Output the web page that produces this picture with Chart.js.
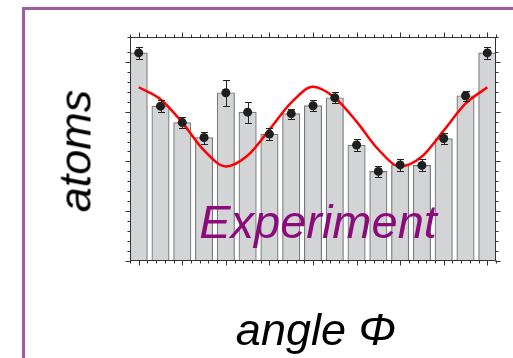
<!DOCTYPE html>
<html>
<head>
<meta charset="utf-8">
<script src="https://cdn.jsdelivr.net/npm/chart.js@4.4.1/dist/chart.umd.min.js"></script>
<style>
  html, body { margin: 0; padding: 0; background: #fff; overflow: hidden; }
  #wrap { position: relative; width: 513px; height: 358px; overflow: hidden; }
  #frame { position: absolute; left: 22px; top: 7px; width: 700px; height: 600px;
           border-left: 3.5px solid #a15aa6; border-top: 3.5px solid #a15aa6; }
  #chart { position: absolute; left: 0; top: 0; }
  .lbl { position: absolute; font-family: "Liberation Sans", Arial, sans-serif; font-style: italic;
         white-space: nowrap; line-height: 1; }
  #yTitle { left: 75px; top: 151px; font-size: 45px; color: #000; transform: translate(-50%, -50%) rotate(-90deg); }
  #xTitle { left: 316px; top: 307px; font-size: 45px; color: #000; transform: translateX(-50%); }
  #tag { left: 318px; top: 198px; font-size: 47px; color: #8c0b7b; transform: translateX(-50%); }
</style>
</head>
<body>
<div id="wrap">
  <div id="frame"></div>
  <canvas id="chart" width="513" height="358"></canvas>
  <div class="lbl" id="yTitle">atoms</div>
  <div class="lbl" id="xTitle">angle Φ</div>
  <div class="lbl" id="tag">Experiment</div>
</div>
<script>
// angle steps (bar positions) and measured atom numbers
const angles = [0, 1, 2, 3, 4, 5, 6, 7, 8, 9, 10, 11, 12, 13, 14, 15, 16];
const atomCounts = [4.18, 3.11, 2.78, 2.48, 3.38, 2.99, 2.55, 2.96, 3.12, 3.28, 2.33, 1.80, 1.93, 1.92, 2.46, 3.32, 4.18];
const atomErrors = [0.12, 0.12, 0.11, 0.12, 0.26, 0.21, 0.12, 0.10, 0.11, 0.11, 0.13, 0.11, 0.12, 0.12, 0.11, 0.10, 0.12];
// red fit curve, read at each angle step
const fitCurve = [3.49, 3.25, 2.78, 2.22, 1.90, 2.12, 2.64, 3.18, 3.50, 3.28, 2.80, 2.24, 1.90, 2.10, 2.62, 3.16, 3.49];

const xMin = -0.4, xMax = 16.4, xStep = 0.4, xMajor = 2;
const yMin = 0, yMax = 4.5, yStep = 0.2, yMajor = 1;

const isMajor = (v, m) => Math.abs(v / m - Math.round(v / m)) < 1e-6;

// error bars drawn through the chart scales
const errorBars = {
    id: 'errorBars',
    afterDatasetsDraw(chart) {
        const { ctx, scales: { x, y } } = chart;
        ctx.save();
        ctx.strokeStyle = '#222';
        ctx.lineWidth = 1;
        angles.forEach((a, i) => {
            const px = Math.round(x.getPixelForValue(a)) + 0.5;
            const top = Math.round(y.getPixelForValue(atomCounts[i] + atomErrors[i])) + 0.5;
            const bot = Math.round(y.getPixelForValue(atomCounts[i] - atomErrors[i])) + 0.5;
            ctx.beginPath();
            ctx.moveTo(px, top); ctx.lineTo(px, bot);
            ctx.moveTo(px - 3.5, top); ctx.lineTo(px + 3.5, top);
            ctx.moveTo(px - 3.5, bot); ctx.lineTo(px + 3.5, bot);
            ctx.stroke();
        });
        ctx.restore();
    }
};

// box frame with outward ticks on all four sides
const frameTicks = {
    id: 'frameTicks',
    afterDraw(chart) {
        const { ctx, chartArea: a, scales: { x, y } } = chart;
        const L = Math.round(a.left) + 0.5, R = Math.round(a.right) - 0.5;
        const T = Math.round(a.top) + 0.5, B = Math.round(a.bottom) - 0.5;
        ctx.save();
        ctx.strokeStyle = '#333';
        ctx.lineWidth = 1;
        ctx.strokeRect(L, T, R - L, B - T);
        ctx.beginPath();
        x.ticks.forEach(t => {
            const px = Math.round(x.getPixelForValue(t.value)) + 0.5;
            const len = isMajor(t.value, xMajor) ? 5 : 3;
            ctx.moveTo(px, T); ctx.lineTo(px, T - len);
            ctx.moveTo(px, B); ctx.lineTo(px, B + len);
        });
        y.ticks.forEach(t => {
            const py = Math.round(y.getPixelForValue(t.value)) + 0.5;
            const len = isMajor(t.value, yMajor) ? 5 : 3;
            ctx.moveTo(L, py); ctx.lineTo(L - len, py);
            ctx.moveTo(R, py); ctx.lineTo(R + len, py);
        });
        ctx.stroke();
        ctx.restore();
    }
};

const hiddenAxis = {
    display: true,
    ticks: { display: false },
    grid: { display: false, drawTicks: false },
    border: { display: false },
    title: { display: false }
};

new Chart(document.getElementById('chart'), {
    type: 'bar',
    data: {
        datasets: [
            {
                type: 'scatter',
                data: angles.map((a, i) => ({ x: a, y: atomCounts[i] })),
                pointRadius: 4.5,
                pointBackgroundColor: '#1e1e1e',
                pointBorderWidth: 0,
                order: 1
            },
            {
                type: 'line',
                data: angles.map((a, i) => ({ x: a, y: fitCurve[i] })),
                borderColor: '#ff0000',
                borderWidth: 2.5,
                pointRadius: 0,
                cubicInterpolationMode: 'monotone',
                fill: false,
                order: 2
            },
            {
                type: 'bar',
                data: angles.map((a, i) => ({ x: a, y: atomCounts[i] })),
                backgroundColor: '#d3d4d6',
                borderColor: '#7a7a7a',
                borderWidth: 1.2,
                barThickness: 17.4,
                order: 3
            }
        ]
    },
    options: {
        responsive: false,
        animation: false,
        devicePixelRatio: 1,
        events: [],
        layout: { padding: { left: 130, right: 17, top: 37, bottom: 97 } },
        plugins: { legend: { display: false }, tooltip: { enabled: false } },
        scales: {
            x: { ...hiddenAxis, type: 'linear', min: xMin, max: xMax, offset: false, ticks: { display: false, stepSize: xStep } },
            y: { ...hiddenAxis, type: 'linear', min: yMin, max: yMax, ticks: { display: false, stepSize: yStep } }
        }
    },
    plugins: [errorBars, frameTicks]
});
</script>
</body>
</html>
